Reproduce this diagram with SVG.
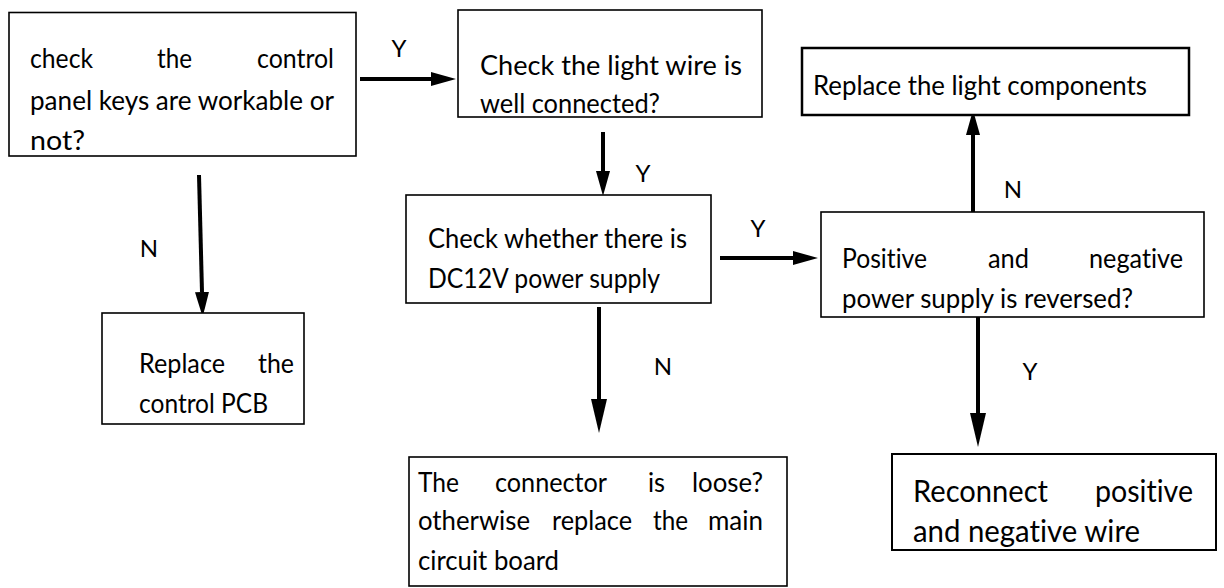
<svg xmlns="http://www.w3.org/2000/svg" width="1224" height="588" viewBox="0 0 1224 588">
<style>
.box{fill:#fff;stroke:#000;stroke-width:1.6}
.t{font-family:Lato,"Liberation Sans",sans-serif;font-size:27px;fill:#000;font-variant-ligatures:none}
.tb{font-family:Lato,"Liberation Sans",sans-serif;font-size:30px;fill:#000;font-variant-ligatures:none}
.lb{font-family:Lato,"Liberation Sans",sans-serif;font-size:24px;fill:#000;text-anchor:middle}
.c{stroke:#000;stroke-width:4;fill:none}
</style>
<defs>
<marker id="ah" markerUnits="userSpaceOnUse" markerWidth="26" markerHeight="16" refX="0" refY="8" orient="auto" viewBox="0 0 26 16"><path d="M0,1 L25,8 L0,15 z" fill="#000"/></marker>
<marker id="ahl" markerUnits="userSpaceOnUse" markerWidth="36" markerHeight="18" refX="0" refY="9" orient="auto" viewBox="0 0 36 18"><path d="M0,1 L34,9 L0,17 z" fill="#000"/></marker>
</defs>
<rect width="1224" height="588" fill="#fff"/>
<g id="connectors">
<line class="c" x1="360" y1="79" x2="431" y2="79" marker-end="url(#ah)"/>
<line class="c" x1="603" y1="132" x2="603" y2="171" marker-end="url(#ah)"/>
<line class="c" x1="199" y1="175" x2="202" y2="292" marker-end="url(#ah)"/>
<line class="c" x1="720" y1="258" x2="793" y2="258" marker-end="url(#ah)"/>
<line class="c" x1="973" y1="212" x2="973" y2="135" marker-end="url(#ah)"/>
<line class="c" x1="599" y1="307" x2="599" y2="399" marker-end="url(#ahl)"/>
<line class="c" x1="978" y1="313" x2="978" y2="413" marker-end="url(#ahl)"/>
<text class="lb" x="399" y="57">Y</text>
<text class="lb" x="643" y="182">Y</text>
<text class="lb" x="149" y="257">N</text>
<text class="lb" x="758" y="237">Y</text>
<text class="lb" x="1013" y="198">N</text>
<text class="lb" x="663" y="375">N</text>
<text class="lb" x="1030" y="380">Y</text>
</g>
<g id="n1">
<rect class="box" x="9" y="12.5" width="347" height="143.5"/>
<text class="t" x="30" y="68" textLength="63" lengthAdjust="spacingAndGlyphs">check</text>
<text class="t" x="157" y="68" textLength="35" lengthAdjust="spacingAndGlyphs">the</text>
<text class="t" x="257" y="68" textLength="77" lengthAdjust="spacingAndGlyphs">control</text>
<text class="t" x="30" y="110" textLength="304" lengthAdjust="spacingAndGlyphs">panel keys are workable or</text>
<text class="t" x="30" y="150" textLength="55" lengthAdjust="spacingAndGlyphs">not?</text>
</g>
<g id="n2">
<rect class="box" x="458" y="10" width="304" height="107"/>
<text class="t" x="480" y="75" textLength="262" lengthAdjust="spacingAndGlyphs">Check the light wire is</text>
<text class="t" x="480" y="113" textLength="180" lengthAdjust="spacingAndGlyphs">well connected?</text>
</g>
<g id="n3">
<rect class="box" x="406" y="195" width="305" height="108"/>
<text class="t" x="428" y="248" textLength="259" lengthAdjust="spacingAndGlyphs">Check whether there is</text>
<text class="t" x="428" y="288" textLength="232" lengthAdjust="spacingAndGlyphs">DC12V power supply</text>
</g>
<g id="n4">
<rect class="box" x="821" y="212" width="383" height="105"/>
<text class="t" x="842" y="268" textLength="85" lengthAdjust="spacingAndGlyphs">Positive</text>
<text class="t" x="988" y="268" textLength="41" lengthAdjust="spacingAndGlyphs">and</text>
<text class="t" x="1089" y="268" textLength="94" lengthAdjust="spacingAndGlyphs">negative</text>
<text class="t" x="842" y="308" textLength="291" lengthAdjust="spacingAndGlyphs">power supply is reversed?</text>
</g>
<g id="n5">
<rect class="box" x="802" y="48" width="387" height="67" style="stroke-width:2.5"/>
<text class="t" x="813" y="95" textLength="334" lengthAdjust="spacingAndGlyphs">Replace the light components</text>
</g>
<g id="n6">
<rect class="box" x="102" y="313" width="202" height="111"/>
<text class="t" x="139" y="373" textLength="86" lengthAdjust="spacingAndGlyphs">Replace</text>
<text class="t" x="258" y="373" textLength="36" lengthAdjust="spacingAndGlyphs">the</text>
<text class="t" x="139" y="413" textLength="129" lengthAdjust="spacingAndGlyphs">control PCB</text>
</g>
<g id="n7">
<rect class="box" x="409" y="457" width="378" height="129"/>
<text class="t" x="418" y="492" textLength="41" lengthAdjust="spacingAndGlyphs">The</text>
<text class="t" x="495" y="492" textLength="112" lengthAdjust="spacingAndGlyphs">connector</text>
<text class="t" x="648" y="492" textLength="17" lengthAdjust="spacingAndGlyphs">is</text>
<text class="t" x="692" y="492" textLength="71" lengthAdjust="spacingAndGlyphs">loose?</text>
<text class="t" x="418" y="530" textLength="112" lengthAdjust="spacingAndGlyphs">otherwise</text>
<text class="t" x="552" y="530" textLength="80" lengthAdjust="spacingAndGlyphs">replace</text>
<text class="t" x="653" y="530" textLength="35" lengthAdjust="spacingAndGlyphs">the</text>
<text class="t" x="708" y="530" textLength="55" lengthAdjust="spacingAndGlyphs">main</text>
<text class="t" x="418" y="570" textLength="141" lengthAdjust="spacingAndGlyphs">circuit board</text>
</g>
<g id="n8">
<rect class="box" x="892" y="454" width="324" height="96" style="stroke-width:2"/>
<text class="tb" x="913" y="502" textLength="135" lengthAdjust="spacingAndGlyphs">Reconnect</text>
<text class="tb" x="1095" y="502" textLength="98" lengthAdjust="spacingAndGlyphs">positive</text>
<text class="tb" x="913" y="542" textLength="227" lengthAdjust="spacingAndGlyphs">and negative wire</text>
</g>
</svg>
